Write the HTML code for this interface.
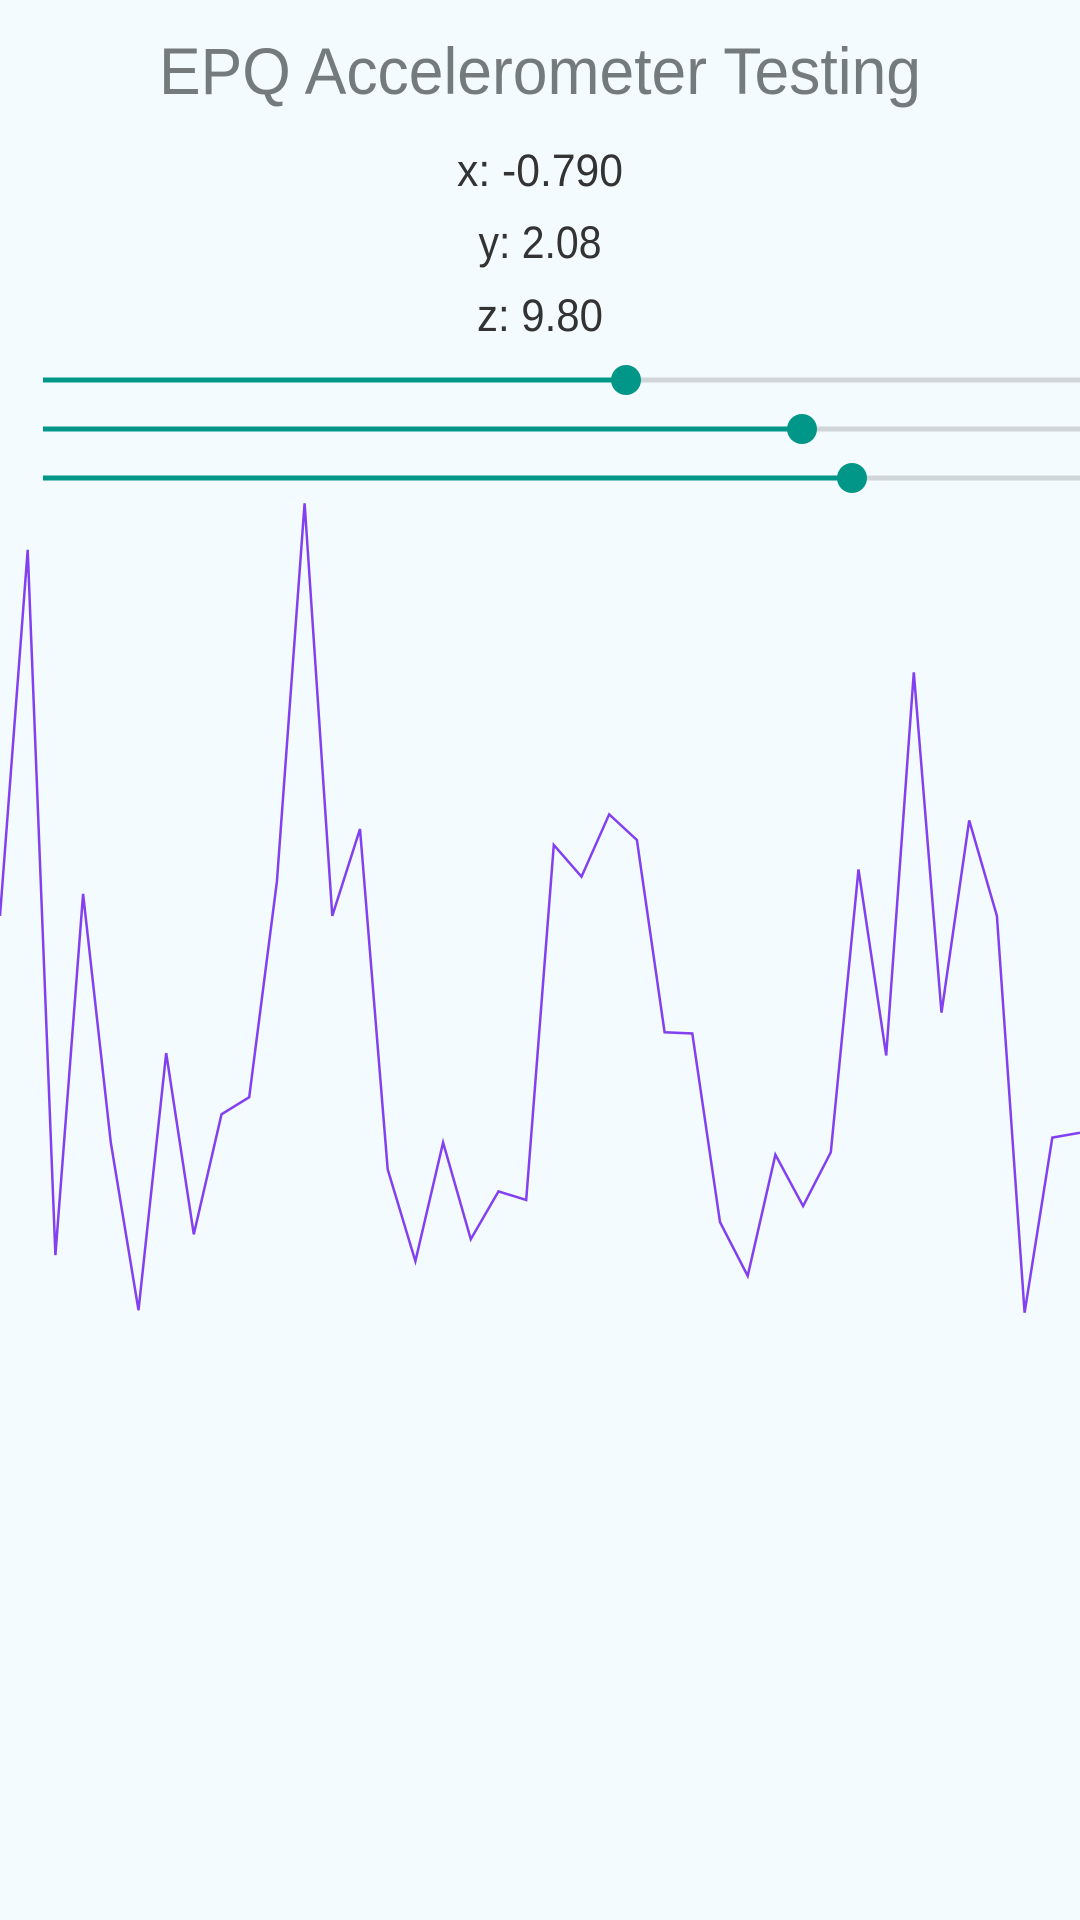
<!DOCTYPE html>
<html><head><meta charset="utf-8"><style>
html,body{margin:0;padding:0;background:#f4fbff;width:1080px;height:1920px;overflow:hidden}
svg{display:block}
</style></head><body>
<svg width="1080" height="1920">
<rect width="1080" height="1920" fill="#f4fbff"/>
<text x="540" y="94" text-anchor="middle" font-family="Liberation Sans, sans-serif" font-size="66" fill="#757a7c" textLength="762" lengthAdjust="spacingAndGlyphs">EPQ Accelerometer Testing</text>
<text x="540" y="186" text-anchor="middle" font-family="Liberation Sans, sans-serif" font-size="45" fill="#333" textLength="166" lengthAdjust="spacingAndGlyphs">x: -0.790</text>
<text x="540" y="258" text-anchor="middle" font-family="Liberation Sans, sans-serif" font-size="45" fill="#333" textLength="123" lengthAdjust="spacingAndGlyphs">y: 2.08</text>
<text x="540" y="331" text-anchor="middle" font-family="Liberation Sans, sans-serif" font-size="45" fill="#333" textLength="126" lengthAdjust="spacingAndGlyphs">z: 9.80</text>
<g>
<line x1="43" y1="380" x2="1080" y2="380" stroke="#d0d5d9" stroke-width="5"/>
<line x1="43" y1="380" x2="626" y2="380" stroke="#009688" stroke-width="5"/>
<circle cx="626" cy="380" r="15" fill="#009688"/>
</g>
<g>
<line x1="43" y1="429" x2="1080" y2="429" stroke="#d0d5d9" stroke-width="5"/>
<line x1="43" y1="429" x2="802" y2="429" stroke="#009688" stroke-width="5"/>
<circle cx="802" cy="429" r="15" fill="#009688"/>
</g>
<g>
<line x1="43" y1="478" x2="1080" y2="478" stroke="#d0d5d9" stroke-width="5"/>
<line x1="43" y1="478" x2="852" y2="478" stroke="#009688" stroke-width="5"/>
<circle cx="852" cy="478" r="15" fill="#009688"/>
</g>
<polyline id="series" fill="none" stroke="#8240f0" stroke-width="2.5" stroke-linejoin="miter"/>
</svg>
<script>
const values = [7.04,13.02,1.5,7.4,3.34,0.6,4.8,1.84,3.8,4.08,7.6,13.78,7.04,8.46,2.9,1.4,3.34,1.76,2.54,2.4,8.2,7.68,8.7,8.28,5.14,5.12,2.04,1.16,3.14,2.3,3.18,7.8,4.76,11.02,5.46,8.6,7.04,0.56,3.42,3.5];
const xScale = i => i * 1080 / (values.length - 1);
const yScale = v => (1100 - v * 50) * 1.2245;
document.getElementById('series').setAttribute('points', values.map((v,i)=>xScale(i).toFixed(1)+','+yScale(v).toFixed(1)).join(' '));
</script>
</body></html>
